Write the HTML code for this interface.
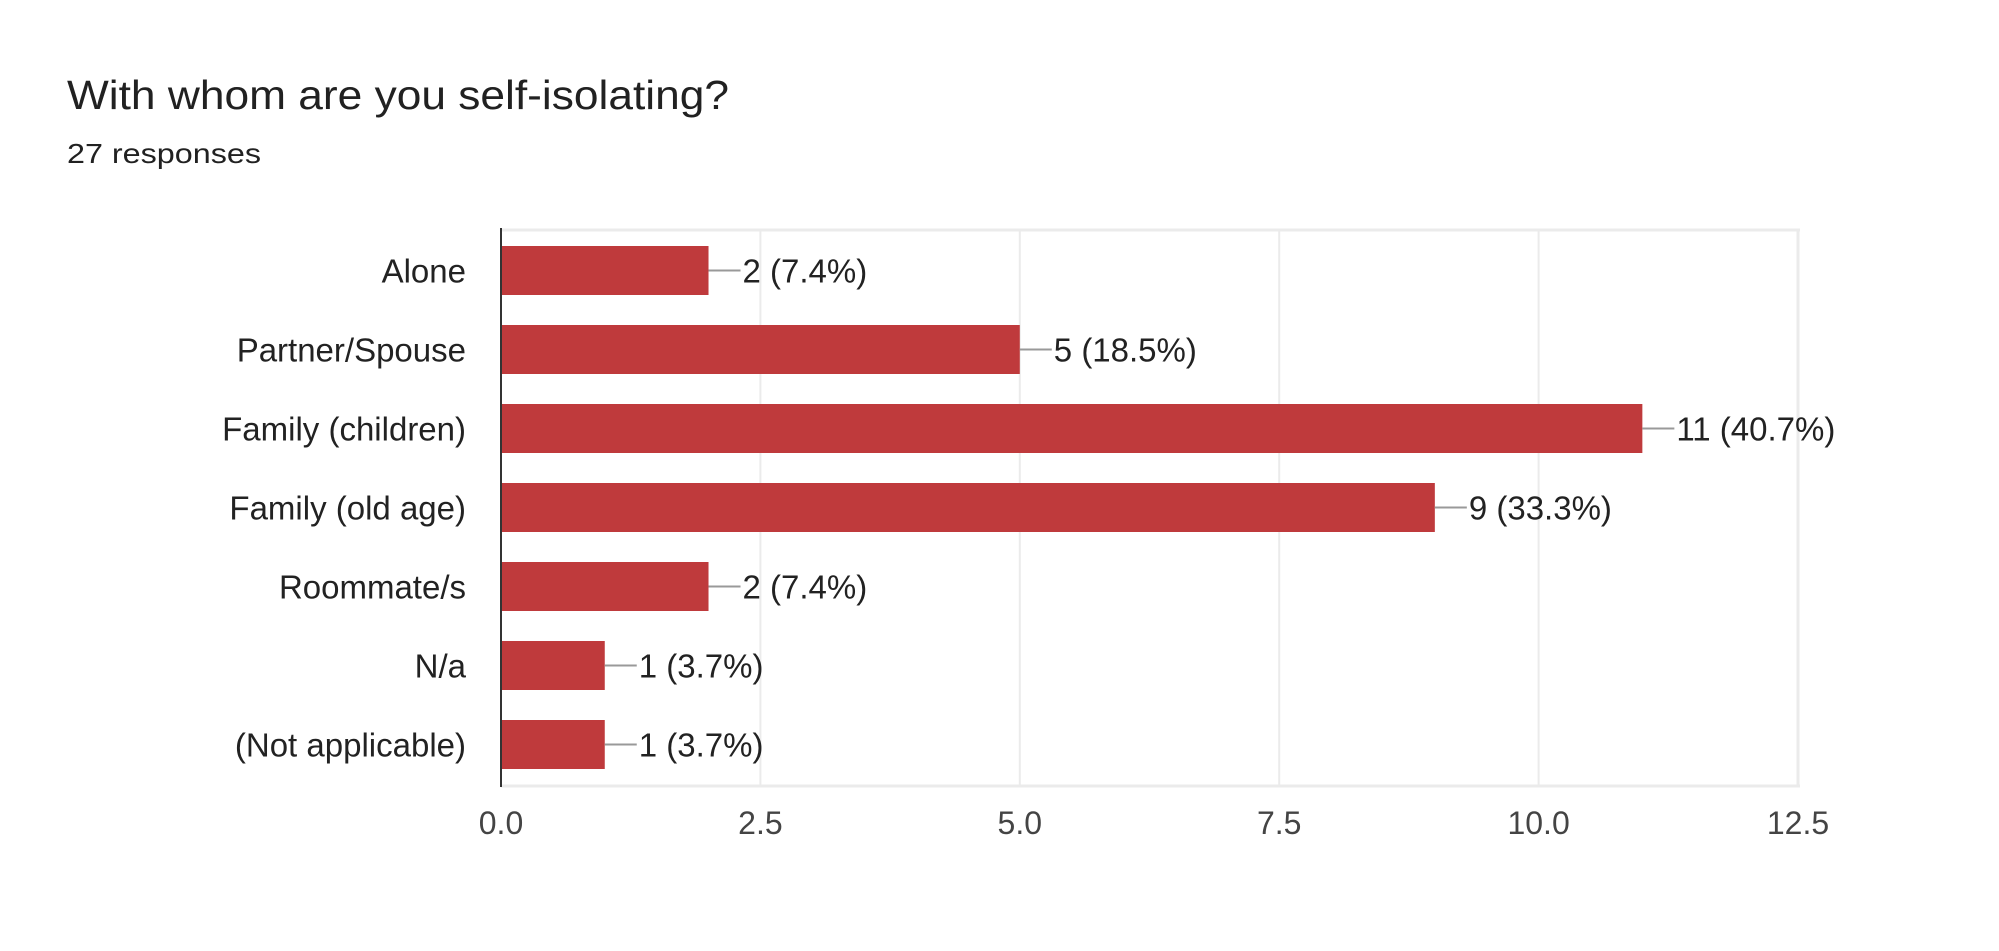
<!DOCTYPE html>
<html><head><meta charset="utf-8"><style>
html,body{margin:0;padding:0;background:#fff;}
svg{display:block;font-family:"Liberation Sans",Arial,sans-serif;}
</style></head><body>
<svg id="chart" width="1999" height="951" viewBox="0 0 1999 951" xmlns="http://www.w3.org/2000/svg">
<text x="67" y="109" font-size="41" fill="#212121" textLength="662" lengthAdjust="spacingAndGlyphs">With whom are you self-isolating?</text>
<text x="67" y="163" font-size="28" fill="#212121" textLength="194" lengthAdjust="spacingAndGlyphs">27 responses</text>
<g id="grid"></g><g id="bars"></g><g id="labels"></g>
</svg>
<script>
const categories = ["Alone","Partner/Spouse","Family (children)","Family (old age)","Roommate/s","N/a","(Not applicable)"];
const counts = [2,5,11,9,2,1,1];
const valueLabels = ["2 (7.4%)","5 (18.5%)","11 (40.7%)","9 (33.3%)","2 (7.4%)","1 (3.7%)","1 (3.7%)"];
const ticks = [0,2.5,5,7.5,10,12.5];
const tickLabels = ["0.0","2.5","5.0","7.5","10.0","12.5"];

const NS="http://www.w3.org/2000/svg";
const X0=501, X1=1798, XMAX=12.5, TOP=230, BOT=786, C0=270.5, PITCH=79, BH=49;
const x=v=>X0+(v/XMAX)*(X1-X0);
const yc=i=>C0+i*PITCH;
function mk(tag,attrs,parent,txt){const e=document.createElementNS(NS,tag);for(const k in attrs)e.setAttribute(k,attrs[k]);if(txt!==undefined)e.textContent=txt;parent.appendChild(e);return e;}
const grid=document.getElementById('grid'),bars=document.getElementById('bars'),labels=document.getElementById('labels');
let t=mk('line',{x1:X0,x2:X1+2,y1:TOP,y2:TOP,stroke:'#ebebeb','stroke-width':3},grid);


t=mk('line',{x1:X0,x2:X1+2,y1:BOT,y2:BOT,stroke:'#ebebeb','stroke-width':3},grid);


ticks.forEach((v,i)=>{
  if(i>0){const g=mk('line',{x1:x(v),x2:x(v),y1:TOP,y2:BOT,stroke:'#ebebeb','stroke-width':i===ticks.length-1?3:2},grid);
  
  }
  const tl=mk('text',{x:x(v),y:834,'font-size':32,fill:'#444','text-anchor':'middle'},labels,tickLabels[i]);
  
  
});
categories.forEach((c,i)=>{
  const y=yc(i);
  const r=mk('rect',{x:X0,y:y-BH/2,width:x(counts[i])-X0,height:BH,fill:'#bf3a3c'},bars);
  
  
  const l=mk('line',{x1:x(counts[i]),x2:x(counts[i])+32,y1:y,y2:y,stroke:'#999','stroke-width':2},bars);
  
  
  const vl=mk('text',{x:x(counts[i])+34,y:y+12,'font-size':33,fill:'#222'},labels,valueLabels[i]);
  
  
  const cl=mk('text',{x:466,y:y+12,'font-size':33,fill:'#222','text-anchor':'end'},labels,c);
  
  
});
const ax=mk('line',{x1:X0,x2:X0,y1:TOP-2,y2:BOT+1,stroke:'#333','stroke-width':2},bars);


</script>
</body></html>
